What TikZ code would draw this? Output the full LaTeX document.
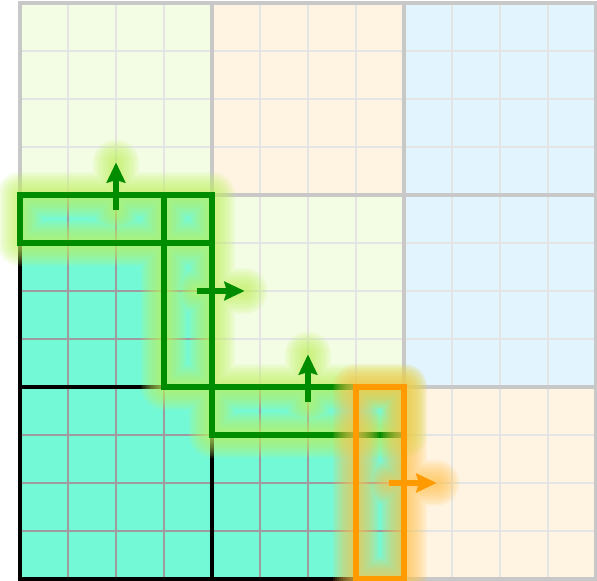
\documentclass[tikz,border=0pt]{standalone}
\usepackage{tikz}
\usetikzlibrary{arrows.meta}

\definecolor{blockgreen}{HTML}{F3FDE3}
\definecolor{blockorange}{HTML}{FFF4E2}
\definecolor{blockblue}{HTML}{E2F4FE}
\definecolor{tealfill}{HTML}{74F9D6}
\definecolor{gridgray}{HTML}{E4E4E4}
\definecolor{tealgrid}{HTML}{9E9A9E}
\definecolor{blockgray}{HTML}{C8C8C8}
\definecolor{pathgreen}{HTML}{008C00}
\definecolor{pathorange}{HTML}{FF9A00}
\definecolor{glowgreen}{HTML}{C0F260}
\definecolor{gloworange}{HTML}{FFC450}

\begin{document}
\begin{tikzpicture}[x=1cm, y=-1cm, >={Stealth[length=12pt, width=11pt, inset=1.5pt]},
	gridlight/.style={draw=gridgray, line width=1.2pt},
	griddark/.style={draw=tealgrid, line width=1.2pt},
	blockline/.style={draw=blockgray, line width=2.6pt, line cap=rect},
	tealline/.style={draw=black, line width=1.8pt, line cap=rect},
	greenbox/.style={draw=pathgreen, line width=3pt},
	orangebox/.style={draw=pathorange, line width=3pt},
	glow/.style={draw=#1, opacity=0.11, line cap=round, line join=round}]
	\useasboundingbox (-0.4167,-0.0625) rectangle (12.0208,12.0417);

	% 底色
	\fill[blockgreen] (0,0) rectangle (4,4);
	\fill[blockorange] (4,0) rectangle (8,4);
	\fill[blockblue] (8,0) rectangle (12,4);
	\fill[blockgreen] (4,4) rectangle (8,8);
	\fill[blockblue] (8,4) rectangle (12,8);
	\fill[blockorange] (8,8) rectangle (12,12);
	\foreach \i in {0,...,12} {\draw[gridlight] (\i,0) -- (\i,12); \draw[gridlight] (0,\i) -- (12,\i);}

	% 已完成的块
	\fill[tealfill] (0,4) rectangle (4,12);
	\fill[tealfill] (4,8) rectangle (8,12);
	\foreach \i in {0,...,4} \draw[griddark] (\i,4) -- (\i,12);
	\foreach \j in {4,...,12} \draw[griddark] (0,\j) -- (4,\j);
	\foreach \i in {4,...,8} \draw[griddark] (\i,8) -- (\i,12);
	\foreach \j in {8,...,12} \draw[griddark] (4,\j) -- (8,\j);

	% 块边界
	\foreach \i in {0,4,8,12} {\draw[blockline] (\i,0) -- (\i,12); \draw[blockline] (0,\i) -- (12,\i);}
	\draw[tealline] (0,4) rectangle (4,12) (0,8) -- (4,8);
	\draw[tealline] (4,8) rectangle (8,12);

	% 箭头端点
	\coordinate (rowA) at (2,4.32);   \coordinate (rowAtip) at (2,3.32);
	\coordinate (colB) at (3.68,6);   \coordinate (colBtip) at (4.68,6);
	\coordinate (rowC) at (6,8.32);   \coordinate (rowCtip) at (6,7.32);
	\coordinate (colD) at (7.68,10);  \coordinate (colDtip) at (8.68,10);

	% 绿色: 光晕, 框, 箭头
	\foreach \w in {46,42,...,6}
		\draw[glow=glowgreen, line width=\w*0.59pt] (0,4) rectangle (4,5) (3,4) rectangle (4,8) (4,8) rectangle (8,9)
			(rowA) -- (rowAtip) (colB) -- (colBtip) (rowC) -- (rowCtip);
	\draw[greenbox] (0,4) rectangle (4,5);
	\draw[greenbox] (3,4) rectangle (4,8);
	\draw[greenbox] (4,8) rectangle (8,9);
	\draw[->, pathgreen, line width=3.2pt] (rowA) -- (rowAtip);
	\draw[->, pathgreen, line width=3.2pt] (colB) -- (colBtip);
	\draw[->, pathgreen, line width=3.2pt] (rowC) -- (rowCtip);

	% 橙色: 光晕, 框, 箭头
	\foreach \w in {46,42,...,6}
		\draw[glow=gloworange, line width=\w*0.59pt] (7,8) rectangle (8,12) (colD) -- (colDtip);
	\draw[orangebox] (7,8) rectangle (8,12);
	\draw[->, pathorange, line width=3.2pt] (colD) -- (colDtip);
\end{tikzpicture}
\end{document}
